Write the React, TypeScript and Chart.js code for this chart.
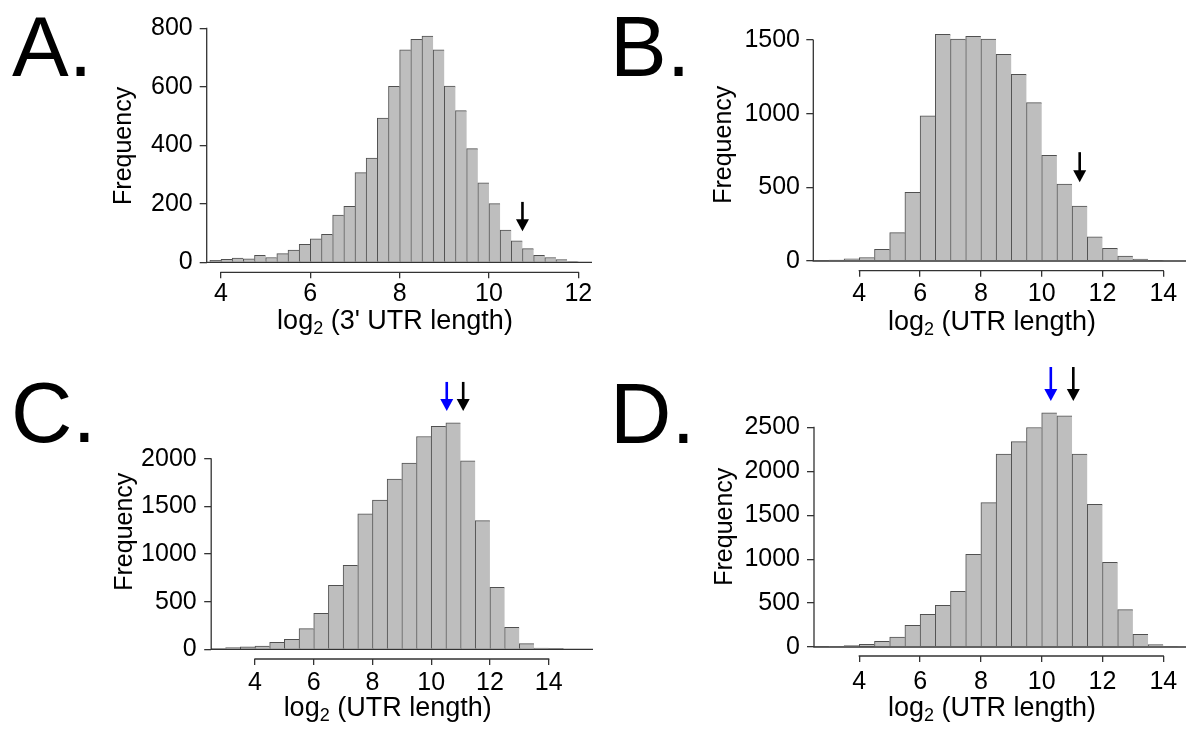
import React, { useEffect, useRef } from 'react';
import { Chart, registerables } from 'chart.js';

Chart.register(...registerables);

const PAGE_W = 1186;
const PAGE_H = 730;
const FONT = "'Liberation Sans', Arial, Helvetica, sans-serif";

// ---------------- data ----------------
// Panel A: log2 (3' UTR length), bins of 0.25 starting at 3.75
const binStartA = 3.75;
const binWidthA = 0.25;
const countsA = [7, 11, 15, 12, 24, 17, 30, 42, 62, 81, 96, 162, 192, 307, 357, 494, 602, 727, 763, 774, 727, 603, 519, 389, 272, 201, 111, 74, 47, 24, 17, 10, 3];
const xTicksA = [4, 6, 8, 10, 12];
const yTicksA = [0, 200, 400, 600, 800];
const arrowsAX = [10.75];
const arrowsAColor = ['#000000'];

// Panel B: log2 (UTR length), bins of 0.5 starting at 2.5
const binStartB = 2.5;
const binWidthB = 0.5;
const countsB = [3, 7, 15, 24, 79, 193, 467, 985, 1539, 1507, 1526, 1507, 1404, 1268, 1075, 717, 522, 373, 164, 86, 33, 13, 4];
const xTicksB = [4, 6, 8, 10, 12, 14];
const yTicksB = [0, 500, 1000, 1500];
const arrowsBX = [11.25];
const arrowsBColor = ['#000000'];

// Panel C
const binStartC = 2.5;
const binWidthC = 0.5;
const countsC = [10, 18, 25, 35, 74, 105, 217, 378, 673, 883, 1423, 1566, 1787, 1955, 2235, 2341, 2379, 1980, 1352, 652, 231, 60, 14, 3];
const xTicksC = [4, 6, 8, 10, 12, 14];
const yTicksC = [0, 500, 1000, 1500, 2000];
const arrowsCX = [10.53, 11.09];
const arrowsCColor = ['#0000ff', '#000000'];

// Panel D
const binStartD = 2.5;
const binWidthD = 0.5;
const countsD = [4, 8, 15, 30, 65, 114, 247, 372, 475, 635, 1056, 1645, 2196, 2340, 2500, 2667, 2633, 2196, 1626, 965, 426, 144, 27, 8];
const xTicksD = [4, 6, 8, 10, 12, 14];
const yTicksD = [0, 500, 1000, 1500, 2000, 2500];
const arrowsDX = [10.3, 11.04];
const arrowsDColor = ['#0000ff', '#000000'];

const yTitle = 'Frequency';
const titleMain = 'log';
const titleSub = '2';
const titleRestA = " (3' UTR length)";
const titleRestB = ' (UTR length)';

// ---------------- layout ----------------
type PanelCfg = {
  letter: string;
  letterX: number;
  letterY: number;
  binStart: number;
  binWidth: number;
  counts: number[];
  xTicks: number[];
  yTicks: number[];
  arrowsX: number[];
  arrowsColor: string[];
  arrowTop: number;
  arrowBottom: number;
  area: { left: number; top: number; right: number; bottom: number };
  xMin: number;
  xMax: number;
  yMin: number;
  yMax: number;
  yAxisWidth: number;
  yTitlePad: number;
  yTickPad: number;
  xTickPad: number;
  titleRest: string;
  titleX: number;
  titleDy: number;
};

const panels: PanelCfg[] = [
  {
    letter: 'A.', letterX: 12, letterY: 76,
    binStart: binStartA, binWidth: binWidthA, counts: countsA,
    xTicks: xTicksA, yTicks: yTicksA, arrowsX: arrowsAX, arrowsColor: arrowsAColor,
    arrowTop: 207, arrowBottom: 107,
    area: { left: 206.7, top: 16, right: 592, bottom: 272.3 },
    xMin: 3.68, xMax: 12.307, yMin: -33.7, yMax: 830.7,
    yAxisWidth: 100, yTitlePad: 2.5, yTickPad: 7, xTickPad: 3,
    titleRest: titleRestA, titleX: 7.896, titleDy: 57,
  },
  {
    letter: 'B.', letterX: 610, letterY: 76,
    binStart: binStartB, binWidth: binWidthB, counts: countsB,
    xTicks: xTicksB, yTicks: yTicksB, arrowsX: arrowsBX, arrowsColor: arrowsBColor,
    arrowTop: 739, arrowBottom: 535,
    area: { left: 813.3, top: 10.7, right: 1186, bottom: 270.7 },
    xMin: 2.487, xMax: 14.747, yMin: -65.8, yMax: 1644.7,
    yAxisWidth: 110, yTitlePad: 5.7, yTickPad: 6.3, xTickPad: 4.6,
    titleRest: titleRestB, titleX: 8.365, titleDy: 59.3,
  },
  {
    letter: 'C.', letterX: 11, letterY: 442,
    binStart: binStartC, binWidth: binWidthC, counts: countsC,
    xTicks: xTicksC, yTicks: yTicksC, arrowsX: arrowsCX, arrowsColor: arrowsCColor,
    arrowTop: 2808, arrowBottom: 2503,
    area: { left: 211.2, top: 404.4, right: 593, bottom: 659 },
    xMin: 2.509, xMax: 15.51, yMin: -101.9, yMax: 2572,
    yAxisWidth: 105, yTitlePad: 3.8, yTickPad: 7.5, xTickPad: 6,
    titleRest: titleRestB, titleX: 8.518, titleDy: 57,
  },
  {
    letter: 'D.', letterX: 610, letterY: 442.7,
    binStart: binStartD, binWidth: binWidthD, counts: countsD,
    xTicks: xTicksD, yTicks: yTicksD, arrowsX: arrowsDX, arrowsColor: arrowsDColor,
    arrowTop: 3189, arrowBottom: 2802,
    area: { left: 814, top: 397.4, right: 1186, bottom: 656 },
    xMin: 2.51, xMax: 14.747, yMin: -102.5, yMax: 2843,
    yAxisWidth: 110, yTitlePad: 6, yTickPad: 7, xTickPad: 8,
    titleRest: titleRestB, titleX: 8.365, titleDy: 60,
  },
];

const X_AXIS_H = 50;
const AXIS_COLOR = '#333333';
const AXIS_LW = 1.3;

function makePlugin(cfg: PanelCfg) {
  return {
    id: 'rStyle' + cfg.letter,
    afterDraw(chart: any) {
      const { ctx, chartArea } = chart;
      const xs = chart.scales.x;
      const ys = chart.scales.y;
      ctx.save();
      ctx.strokeStyle = AXIS_COLOR;
      ctx.lineWidth = AXIS_LW;
      ctx.lineCap = 'butt';
      // baseline at 0
      const y0 = ys.getPixelForValue(0);
      ctx.beginPath();
      ctx.moveTo(chartArea.left, y0);
      ctx.lineTo(chartArea.right, y0);
      // y axis line from first to last tick
      ctx.moveTo(chartArea.left, ys.getPixelForValue(cfg.yTicks[0]) + AXIS_LW / 2);
      ctx.lineTo(chartArea.left, ys.getPixelForValue(cfg.yTicks[cfg.yTicks.length - 1]) - AXIS_LW / 2);
      // x axis line from first to last tick
      ctx.moveTo(xs.getPixelForValue(cfg.xTicks[0]) - AXIS_LW / 2, chartArea.bottom);
      ctx.lineTo(xs.getPixelForValue(cfg.xTicks[cfg.xTicks.length - 1]) + AXIS_LW / 2, chartArea.bottom);
      ctx.stroke();

      // arrows
      cfg.arrowsX.forEach((ax, i) => {
        const px = xs.getPixelForValue(ax);
        const pt = ys.getPixelForValue(cfg.arrowTop);
        const pb = ys.getPixelForValue(cfg.arrowBottom);
        const headH = 12;
        const headW = 13;
        ctx.strokeStyle = cfg.arrowsColor[i];
        ctx.fillStyle = cfg.arrowsColor[i];
        ctx.lineWidth = 2.6;
        ctx.beginPath();
        ctx.moveTo(px, pt);
        ctx.lineTo(px, pb - headH + 1);
        ctx.stroke();
        ctx.beginPath();
        ctx.moveTo(px - headW / 2, pb - headH);
        ctx.lineTo(px + headW / 2, pb - headH);
        ctx.lineTo(px, pb);
        ctx.closePath();
        ctx.fill();
      });

      // x title with subscript
      ctx.fillStyle = '#000';
      ctx.textBaseline = 'alphabetic';
      ctx.textAlign = 'left';
      const mainFont = `27px ${FONT}`;
      const subFont = `18px ${FONT}`;
      ctx.font = mainFont;
      const w1 = ctx.measureText(titleMain).width;
      const w3 = ctx.measureText(cfg.titleRest).width;
      ctx.font = subFont;
      const w2 = ctx.measureText(titleSub).width;
      const total = w1 + w2 + w3;
      const cx = xs.getPixelForValue(cfg.titleX);
      const by = chartArea.bottom + cfg.titleDy;
      const sx = cx - total / 2;
      ctx.font = mainFont;
      ctx.fillText(titleMain, sx, by);
      ctx.font = subFont;
      ctx.fillText(titleSub, sx + w1, by + 5);
      ctx.font = mainFont;
      ctx.fillText(cfg.titleRest, sx + w1 + w2, by);

      // panel letter
      ctx.font = `85px ${FONT}`;
      ctx.fillText(cfg.letter, cfg.letterX, cfg.letterY);
      ctx.restore();
    },
  };
}

function Panel({ cfg }: { cfg: PanelCfg }) {
  const ref = useRef<HTMLCanvasElement>(null);
  useEffect(() => {
    if (!ref.current) return;
    const last = cfg.counts.length - 1;
    const chart = new Chart(ref.current, {
      type: 'bar',
      data: {
        datasets: [
          {
            data: cfg.counts.map((c, i) => ({ x: cfg.binStart + cfg.binWidth * (i + 0.5), y: c })),
            backgroundColor: '#bebebe',
            borderColor: '#505050',
            borderWidth: (c: any) => ({ top: 1, left: 1, right: c.dataIndex === last ? 1 : 0, bottom: 0 }),
            borderSkipped: false,
            barPercentage: 1,
            categoryPercentage: 1,
          } as any,
        ],
      },
      options: {
        responsive: false,
        animation: false,
        devicePixelRatio: 1,
        events: [],
        layout: {
          padding: {
            left: cfg.area.left - cfg.yAxisWidth,
            top: cfg.area.top,
            right: PAGE_W - cfg.area.right,
            bottom: PAGE_H - cfg.area.bottom - X_AXIS_H,
          },
        },
        plugins: {
          legend: { display: false },
          tooltip: { enabled: false },
        },
        scales: {
          x: {
            type: 'linear',
            min: cfg.xMin,
            max: cfg.xMax,
            offset: false,
            afterBuildTicks: (s: any) => {
              s.ticks = cfg.xTicks.map((v) => ({ value: v }));
            },
            afterFit: (s: any) => {
              s.height = X_AXIS_H;
            },
            grid: {
              display: true,
              offset: false,
              drawOnChartArea: false,
              drawTicks: true,
              tickLength: 6,
              color: AXIS_COLOR,
              lineWidth: AXIS_LW,
            },
            border: { display: false },
            ticks: {
              font: { family: FONT, size: 25, lineHeight: 1 },
              color: '#000',
              padding: cfg.xTickPad,
              maxRotation: 0,
              minRotation: 0,
              autoSkip: false,
              callback: (v: any) => String(v),
            },
          },
          y: {
            type: 'linear',
            min: cfg.yMin,
            max: cfg.yMax,
            beginAtZero: false,
            afterBuildTicks: (s: any) => {
              s.ticks = cfg.yTicks.map((v) => ({ value: v }));
            },
            afterFit: (s: any) => {
              s.width = cfg.yAxisWidth;
            },
            grid: {
              display: true,
              drawOnChartArea: false,
              drawTicks: true,
              tickLength: 7,
              color: AXIS_COLOR,
              lineWidth: AXIS_LW,
            },
            border: { display: false },
            ticks: {
              font: { family: FONT, size: 25, lineHeight: 1 },
              color: '#000',
              padding: cfg.yTickPad,
              autoSkip: false,
              callback: (v: any) => String(v),
            },
            title: {
              display: true,
              text: yTitle,
              color: '#000',
              font: { family: FONT, size: 25, lineHeight: 1.2 },
              padding: { top: cfg.yTitlePad, bottom: 0 },
            },
          },
        },
      } as any,
      plugins: [makePlugin(cfg)],
    });
    return () => chart.destroy();
  }, [cfg]);
  return (
    <canvas
      ref={ref}
      width={PAGE_W}
      height={PAGE_H}
      style={{ position: 'absolute', left: 0, top: 0, width: PAGE_W, height: PAGE_H }}
    />
  );
}

export default function App() {
  return (
    <div
      style={{
        position: 'absolute',
        left: 0,
        top: 0,
        width: PAGE_W,
        height: PAGE_H,
        background: '#ffffff',
        overflow: 'hidden',
      }}
    >
      {panels.map((p) => (
        <Panel key={p.letter} cfg={p} />
      ))}
    </div>
  );
}
